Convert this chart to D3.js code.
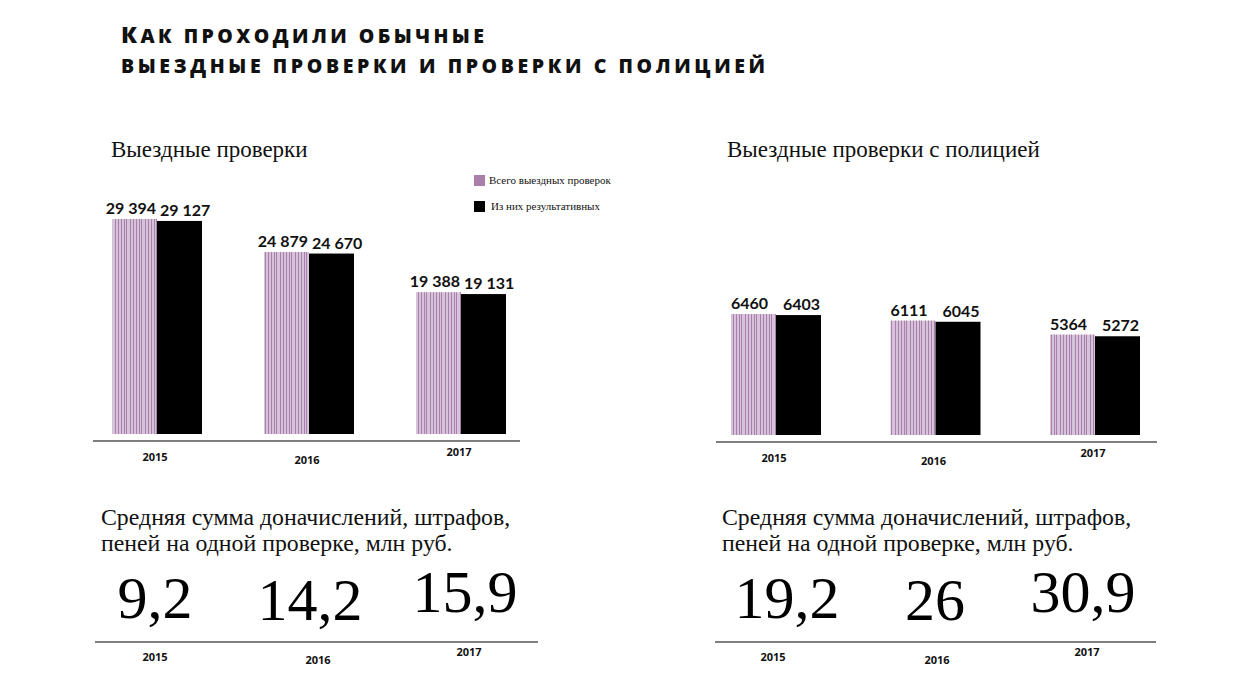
<!DOCTYPE html>
<html>
<head>
<meta charset="utf-8">
<script src="https://cdn.jsdelivr.net/npm/d3@7/dist/d3.min.js"></script>
<style>
  html, body { margin: 0; padding: 0; background: #fff; }
  svg { display: block; }
</style>
</head>
<body>
<svg id="chart" width="1234" height="687"></svg>
<script>
// ---------------- DATA ----------------
const years = ["2015", "2016", "2017"];
const seriesNames = ["Всего выездных проверок", "Из них результативных"];
// Выездные проверки
const fieldTotal = [29394, 24879, 19388];
const fieldEffective = [29127, 24670, 19131];
// Выездные проверки с полицией
const policeTotal = [6460, 6111, 5364];
const policeEffective = [6403, 6045, 5272];
// Средняя сумма доначислений, штрафов, пеней на одной проверке, млн руб.
const avgField = ["9,2", "14,2", "15,9"];
const avgPolice = ["19,2", "26", "30,9"];

const titleLine1 = "Как проходили обычные";
const titleLine2 = "выездные проверки и проверки с полицией";
const subtitleField = "Выездные проверки";
const subtitlePolice = "Выездные проверки с полицией";
const avgTitle1 = "Средняя сумма доначислений, штрафов,";
const avgTitle2 = "пеней на одной проверке, млн руб.";

// ---------------- STYLE / LAYOUT ----------------
const SANS = "'Open Sans', 'DejaVu Sans', sans-serif";
const LABEL = "Lato, 'Open Sans', sans-serif";
const SERIF = "'Liberation Serif', 'DejaVu Serif', serif";
const lightPurple = "#d6c2d9";
const stripePurple = "#a980ac";
const legendPurple = "#a87fab";
const barW = 45;
const yearDy = [0, 3, -5];
const bigDy = [0, 2, -6];

const svg = d3.select("#chart");
const defs = svg.append("defs");
const pat = defs.append("pattern")
  .attr("id", "stripes")
  .attr("patternUnits", "userSpaceOnUse")
  .attr("width", 15).attr("height", 10);
pat.append("rect").attr("width", 15).attr("height", 10).attr("fill", lightPurple);
[[1, 1], [4, 1], [6, 1], [10, 1], [13, 1]].forEach(([x, w]) => {
  pat.append("rect").attr("x", x).attr("y", 0).attr("width", w).attr("height", 10)
    .attr("fill", stripePurple);
});

// ---------------- TITLE ----------------
const t1 = svg.append("text").attr("x", 121).attr("y", 43)
  .attr("font-family", SANS).attr("font-weight", 800).attr("fill", "#111")
  .attr("textLength", 363).attr("lengthAdjust", "spacing");
t1.append("tspan").attr("font-size", 23).text(titleLine1[0].toUpperCase());
t1.append("tspan").attr("font-size", 19.5).text(titleLine1.slice(1).toUpperCase());
svg.append("text").attr("x", 121).attr("y", 73)
  .attr("font-family", SANS).attr("font-weight", 800).attr("fill", "#111")
  .attr("font-size", 19.5)
  .attr("textLength", 644).attr("lengthAdjust", "spacing")
  .text(titleLine2.toUpperCase());

// ---------------- BAR PANELS ----------------
function barPanel(cfg) {
  const g = svg.append("g");
  const x = d3.scalePoint().domain(years).range(cfg.xRange);
  const y = d3.scaleLinear().domain([0, cfg.maxVal]).range([cfg.base, cfg.top]);

  g.append("text").attr("x", cfg.subX).attr("y", 157)
    .attr("font-family", SERIF).attr("font-size", 23).attr("fill", "#111")
    .text(cfg.subtitle);

  const groups = years.map((yr, i) => ({ yr, i, total: cfg.total[i], eff: cfg.eff[i] }));

  g.selectAll("rect.total").data(groups).join("rect").attr("class", "total")
    .attr("x", d => x(d.yr) - barW)
    .attr("y", d => y(d.total))
    .attr("width", barW)
    .attr("height", d => cfg.base - y(d.total))
    .attr("fill", "url(#stripes)");
  g.selectAll("rect.eff").data(groups).join("rect").attr("class", "eff")
    .attr("x", d => x(d.yr))
    .attr("y", d => y(d.eff))
    .attr("width", barW)
    .attr("height", d => cfg.base - y(d.eff))
    .attr("fill", "#000");

  const fmt = v => cfg.spaced ? d3.format(",")(v).replace(/,/g, " ") : String(v);
  g.selectAll("text.lt").data(groups).join("text").attr("class", "lt")
    .attr("x", d => cfg.spaced ? x(d.yr) - 1 : x(d.yr) - barW / 2 - 4)
    .attr("y", d => y(d.total) - 5)
    .attr("text-anchor", cfg.spaced ? "end" : "middle")
    .attr("font-family", LABEL).attr("font-weight", 700).attr("font-size", 16)
    .attr("fill", "#111")
    .text(d => fmt(d.total));
  g.selectAll("text.le").data(groups).join("text").attr("class", "le")
    .attr("x", d => cfg.spaced ? x(d.yr) + 3 : x(d.yr) + barW / 2 + 3)
    .attr("y", d => y(d.eff) - 5)
    .attr("text-anchor", cfg.spaced ? "start" : "middle")
    .attr("font-family", LABEL).attr("font-weight", 700).attr("font-size", 16)
    .attr("fill", "#111")
    .text(d => fmt(d.eff));

  g.append("line").attr("x1", cfg.axisX[0]).attr("x2", cfg.axisX[1])
    .attr("y1", cfg.axisY).attr("y2", cfg.axisY)
    .attr("stroke", "#555").attr("stroke-width", 1.5);
  g.selectAll("text.yr").data(groups).join("text").attr("class", "yr")
    .attr("x", d => x(d.yr) - 2)
    .attr("y", d => cfg.axisY + 20 + yearDy[d.i])
    .attr("text-anchor", "middle")
    .attr("font-family", SANS).attr("font-weight", 700).attr("font-size", 11)
    .attr("fill", "#111")
    .text(d => d.yr);
}

barPanel({
  xRange: [157, 461], base: 434, top: 219, maxVal: fieldTotal[0],
  total: fieldTotal, eff: fieldEffective, spaced: true,
  subtitle: subtitleField, subX: 111, axisX: [93, 520], axisY: 441
});
barPanel({
  xRange: [776, 1095], base: 435, top: 314, maxVal: policeTotal[0],
  total: policeTotal, eff: policeEffective, spaced: false,
  subtitle: subtitlePolice, subX: 727, axisX: [716, 1157], axisY: 442
});

// ---------------- LEGEND ----------------
const leg = svg.append("g");
const legendFills = [legendPurple, "#000"];
seriesNames.forEach((name, i) => {
  const yy = 175 + i * 26;
  leg.append("rect").attr("x", 474).attr("y", yy).attr("width", 11).attr("height", 11)
    .attr("fill", legendFills[i]);
  leg.append("text").attr("x", 489 + i * 2).attr("y", yy + 8.5)
    .attr("font-family", SERIF).attr("font-size", 11).attr("fill", "#111")
    .text(name);
});

// ---------------- AVERAGE PANELS ----------------
function avgPanel(cfg) {
  const g = svg.append("g");
  const x = d3.scalePoint().domain(years).range(cfg.xRange);
  g.append("text").attr("x", cfg.subX).attr("y", 525)
    .attr("font-family", SERIF).attr("font-size", 23.8).attr("fill", "#111")
    .text(avgTitle1);
  g.append("text").attr("x", cfg.subX).attr("y", 551)
    .attr("font-family", SERIF).attr("font-size", 23.8).attr("fill", "#111")
    .text(avgTitle2);
  g.selectAll("text.big").data(cfg.vals).join("text").attr("class", "big")
    .attr("x", (d, i) => x(years[i]))
    .attr("y", (d, i) => 618 + bigDy[i])
    .attr("text-anchor", "middle")
    .attr("font-family", SERIF).attr("font-size", 60).attr("fill", "#000")
    .text(d => d);
  g.append("line").attr("x1", cfg.lineX[0]).attr("x2", cfg.lineX[1])
    .attr("y1", 642).attr("y2", 642)
    .attr("stroke", "#555").attr("stroke-width", 1.5);
  g.selectAll("text.yr").data(years).join("text").attr("class", "yr")
    .attr("x", (d, i) => x(d) + cfg.yrShift[i])
    .attr("y", (d, i) => 661 + yearDy[i])
    .attr("text-anchor", "middle")
    .attr("font-family", SANS).attr("font-weight", 700).attr("font-size", 11)
    .attr("fill", "#111")
    .text(d => d);
}
avgPanel({ xRange: [155, 465], vals: avgField, subX: 101, lineX: [95, 538], yrShift: [0, 8, 4] });
avgPanel({ xRange: [787, 1083], vals: avgPolice, subX: 722, lineX: [715, 1156], yrShift: [-14, 2, 4] });
</script>
</body>
</html>
